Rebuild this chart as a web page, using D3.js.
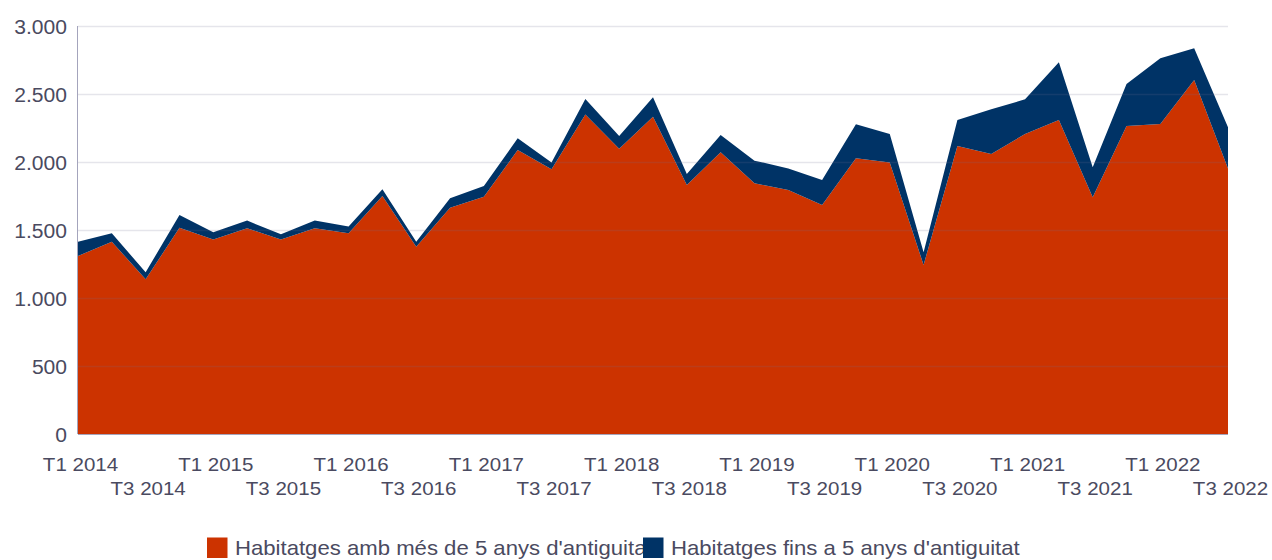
<!DOCTYPE html>
<html>
<head>
<meta charset="utf-8">
<script src="https://cdn.jsdelivr.net/npm/d3@7"></script>
<style>
  html, body { margin: 0; padding: 0; background: #fff; }
  svg { display: block; font-family: "Liberation Sans", Arial, sans-serif; }
</style>
</head>
<body>
<svg id="chart" width="1272" height="560"></svg>
<script>
// Quarters T1 2014 .. T3 2022
const quarters = [];
for (let y = 2014; y <= 2022; y++) {
  for (let q = 1; q <= 4; q++) {
    if (y === 2022 && q > 3) break;
    quarters.push("T" + q + " " + y);
  }
}

// Dwellings older than 5 years
const olderThan5 = [1309, 1414, 1137, 1517, 1431, 1512, 1431, 1512, 1476, 1750,
                    1376, 1664, 1745, 2088, 1946, 2350, 2098, 2333, 1831, 2071,
                    1843, 1794, 1684, 2027, 1997, 1243, 2118, 2059, 2206, 2309,
                    1740, 2265, 2279, 2603, 1953];
// Dwellings up to 5 years old
const upTo5 = [105, 62, 52, 93, 52, 57, 37, 57, 49, 49,
               38, 69, 79, 86, 51, 113, 93, 143, 81, 128,
               167, 159, 184, 250, 209, 93, 191, 328, 255, 424,
               221, 309, 483, 233, 302];

const yTicks = [0, 500, 1000, 1500, 2000, 2500, 3000];
const seriesNames = ["Habitatges amb més de 5 anys d'antiguitat", "Habitatges fins a 5 anys d'antiguitat"];
const seriesColors = ["#cc3300", "#003366"];

const svg = d3.select("#chart");
const margin = { left: 78, right: 44, top: 26, bottom: 126 };
const W = 1272, H = 560;
const textColor = "#4a4a60";
const sx = 1.08; // slightly wide lettering

const x = d3.scalePoint().domain(quarters).range([margin.left, W - margin.right]);
const y = d3.scaleLinear().domain([0, 3000]).range([H - margin.bottom, margin.top]);

const rows = quarters.map((q, i) => ({ q, a: olderThan5[i], b: upTo5[i] }));
const stacked = d3.stack().keys(["a", "b"])(rows);

const area = d3.area()
  .x(d => x(d.data.q))
  .y0(d => y(d[0]))
  .y1(d => y(d[1]));

svg.append("g").selectAll("path")
  .data(stacked)
  .join("path")
  .attr("d", area)
  .attr("fill", (d, i) => seriesColors[i]);

// gridlines over the areas
svg.append("g").selectAll("line")
  .data(yTicks.filter(t => t > 0))
  .join("line")
  .attr("x1", margin.left).attr("x2", W - margin.right)
  .attr("y1", d => Math.round(y(d)) + 0.5).attr("y2", d => Math.round(y(d)) + 0.5)
  .attr("stroke", "#6e6e90").attr("stroke-opacity", 0.18).attr("stroke-width", 1.5);

// axis lines
svg.append("line")
  .attr("x1", margin.left - 0.5).attr("x2", margin.left - 0.5)
  .attr("y1", y(3000)).attr("y2", y(0))
  .attr("stroke", "#a4a4bc").attr("stroke-width", 1);
svg.append("line")
  .attr("x1", margin.left).attr("x2", W - margin.right)
  .attr("y1", y(0) + 0.5).attr("y2", y(0) + 0.5)
  .attr("stroke", "#a4a4bc").attr("stroke-width", 1);

// y axis labels
const fmt = d3.formatLocale({ decimal: ",", thousands: ".", grouping: [3], currency: ["", "€"] }).format(",d");
svg.append("g").attr("transform", `scale(${sx},1)`).selectAll("text")
  .data(yTicks)
  .join("text")
  .attr("x", 67 / sx)
  .attr("y", d => y(d) + 1)
  .attr("dy", "0.35em")
  .attr("text-anchor", "end")
  .attr("font-size", 19.5)
  .attr("fill", textColor)
  .text(d => fmt(d));

// x axis labels: T1 and T3 on two staggered rows
const xLabels = quarters.filter(q => q.startsWith("T1") || q.startsWith("T3"));
svg.append("g").attr("transform", `scale(${sx},1)`).selectAll("text")
  .data(xLabels)
  .join("text")
  .attr("x", d => (x(d) + 2.5) / sx)
  .attr("y", d => d.startsWith("T1") ? 471 : 495)
  .attr("text-anchor", "middle")
  .attr("font-size", 19)
  .attr("fill", textColor)
  .text(d => d);

// legend
const legend = svg.append("g");
const legendX = [207, 643];
const legendText = legend.append("g").attr("transform", `scale(${sx},1)`);
seriesNames.forEach((name, i) => {
  legendText.append("text")
    .attr("x", (legendX[i] + 28) / sx).attr("y", 555)
    .attr("font-size", 20.5).attr("fill", textColor)
    .text(name);
});
seriesNames.forEach((name, i) => {
  legend.append("rect")
    .attr("x", legendX[i]).attr("y", 537.5)
    .attr("width", 20.5).attr("height", 20.5)
    .attr("fill", seriesColors[i]);
});
</script>
</body>
</html>
